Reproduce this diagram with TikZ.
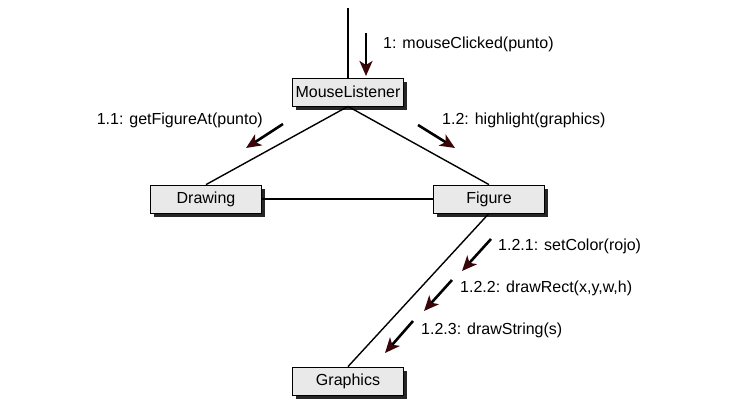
\documentclass[tikz,border=0pt]{standalone}
\usepackage{fontspec}
\setmainfont{Liberation Sans}
\usetikzlibrary{arrows.meta,shadows}
\definecolor{boxfill}{HTML}{E9E9E9}
\definecolor{headcol}{HTML}{3A0508}
\tikzset{
  objbox/.style={draw=black,line width=0.8pt,fill=boxfill,minimum width=111pt,minimum height=28pt,
    inner sep=0pt,font=\fontsize{16}{18}\selectfont,
    drop shadow={shadow xshift=3pt,shadow yshift=-4pt,fill=black!85,opacity=1}},
  link/.style={line width=1.4pt},
  msg/.style={line width=2.6pt,-{Stealth[length=15pt,width=13pt,inset=4pt,color=headcol]}},
  msglabel/.style={font=\fontsize{16}{18}\selectfont,inner sep=0pt}
}
\begin{document}
\begin{tikzpicture}[x=1pt,y=-1pt]
    \useasboundingbox (0,0) rectangle (743,412);

    % Objects
    \node[objbox] (ml) at (348,92) {MouseListener};
    \node[objbox] (drawing) at (206,199) {Drawing};
    \node[objbox] (figure) at (489,199) {Figure};
    \node[objbox] (graphics) at (348,381) {Graphics};

    % Links
    \coordinate (top) at (348,8);
    \draw[link] (top) -- (ml.north);
    \draw[link] (ml.south) -- (drawing.north);
    \draw[link] (ml.south) -- (figure.north);
    \draw[link] (drawing.east) -- (figure.west);
    \draw[link] (figure.south) -- (graphics.north);

    % Message 1
    \coordinate (m1s) at (366,33);
    \coordinate (m1e) at (366,76);
    \draw[msg] (m1s) -- (m1e);
    \node[msglabel,anchor=west] (m1) at (383,44) {1: mouseClicked(punto)};

    % Message 1.1
    \coordinate (m11s) at (283,124);
    \coordinate (m11e) at (246,148);
    \draw[msg] (m11s) -- (m11e);
    \node[msglabel,anchor=east] (m11) at (263,120) {1.1: getFigureAt(punto)};

    % Message 1.2
    \coordinate (m12s) at (418,125);
    \coordinate (m12e) at (455,148);
    \draw[msg] (m12s) -- (m12e);
    \node[msglabel,anchor=west] (m12) at (442,120) {1.2: highlight(graphics)};

    % Messages 1.2.x
    \coordinate (m121s) at (491,239);
    \coordinate (m121e) at (462,271);
    \draw[msg] (m121s) -- (m121e);
    \node[msglabel,anchor=west] (m121) at (498,246) {1.2.1: setColor(rojo)};

    \coordinate (m122s) at (452,280);
    \coordinate (m122e) at (424,311);
    \draw[msg] (m122s) -- (m122e);
    \node[msglabel,anchor=west] (m122) at (460,288) {1.2.2: drawRect(x,y,w,h)};

    \coordinate (m123s) at (413,321);
    \coordinate (m123e) at (385,353);
    \draw[msg] (m123s) -- (m123e);
    \node[msglabel,anchor=west] (m123) at (421,330) {1.2.3: drawString(s)};
\end{tikzpicture}
\end{document}
